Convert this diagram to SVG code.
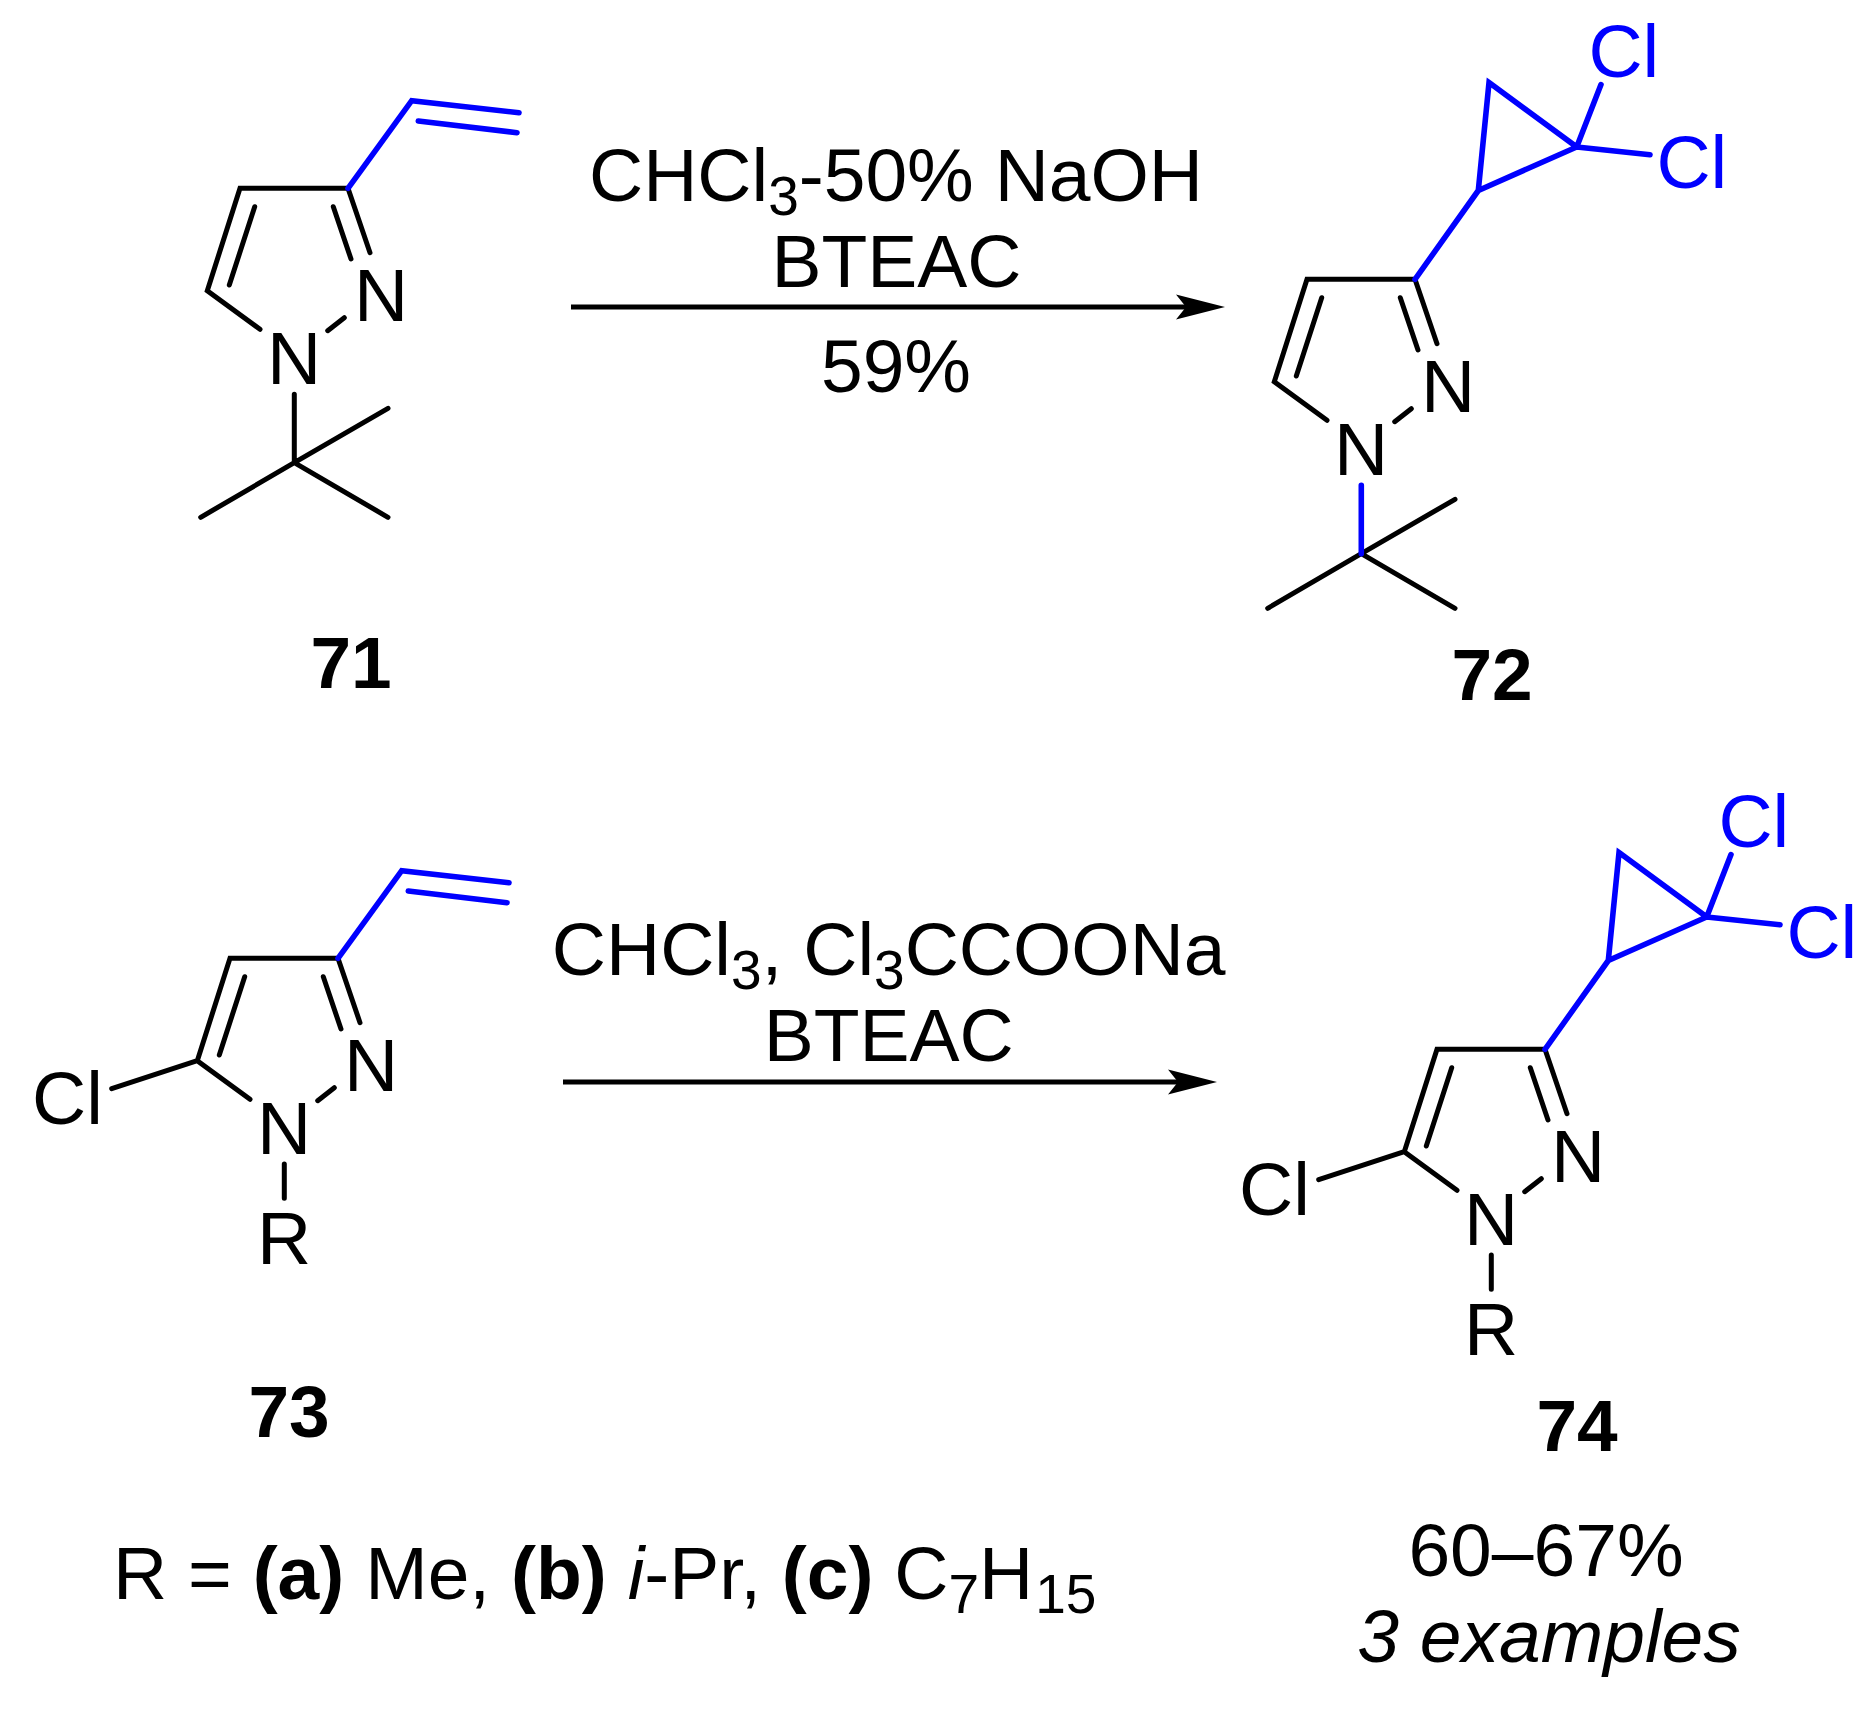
<svg xmlns="http://www.w3.org/2000/svg" width="1873" height="1710" viewBox="0 0 1873 1710">
<style>
text{font-family:"Liberation Sans",Arial,sans-serif;font-size:75px;fill:#000}
.b{fill:none;stroke:#000;stroke-width:5;stroke-linecap:round;stroke-linejoin:miter}
.u{fill:none;stroke:#0000ff;stroke-width:5.6;stroke-linecap:round;stroke-linejoin:miter}
.blue{fill:#0000ff}
.m{text-anchor:middle}
.bd{font-weight:700}
.lbl{font-size:73px}
.it{font-style:italic}
.sub{font-size:55px}
.arrow{fill:none;stroke:#000;stroke-width:5}
.head{fill:#000}
</style>
<rect width="1873" height="1710" fill="#ffffff"/>
<g id="compound-71">
<path class="b" d="M348 188.3H240L207.3 290.7L260 329.3M254.7 206.7L229.3 285M348 188.3L370 252.7M333.3 206.7L351 259M327.7 330.7L344.3 317.7M294.3 394.3V462.7M388 408.3L294.3 462.7L200.7 517.3M294.3 462.7L388 517.3"/>
<path class="u" d="M348 188.3L411.7 100.7L519 112.7M418.3 121L517 132.7"/>
<text class="m" x="294" y="384">N</text><text class="m" x="381" y="321">N</text>
<text class="m bd lbl" x="351" y="688">71</text>
</g>
<g id="compound-72" transform="translate(1067 91)">
<path class="b" d="M348 188.3H240L207.3 290.7L260 329.3M254.7 206.7L229.3 285M348 188.3L370 252.7M333.3 206.7L351 259M327.7 330.7L344.3 317.7M388 408.3L294.3 462.7L200.7 517.3M294.3 462.7L388 517.3"/>
<path class="u" d="M294.3 394.3V462.7M348 188.3L411.3 99.5M422 -8.4L509.7 56L411.3 99.5ZM509.7 56L534 -6.4M509.7 56L583 63.8"/>
<text class="m" x="294" y="384">N</text><text class="m" x="381" y="321">N</text>
<text class="blue" x="521.4" y="-14.4">Cl</text><text class="blue" x="589.4" y="97.2">Cl</text>
<text class="m bd lbl" x="425" y="609">72</text>
</g>
<g id="compound-73" transform="translate(-10 770)">
<path class="b" d="M348 188.3H240L207.3 290.7L260 329.3M254.7 206.7L229.3 285M348 188.3L370 252.7M333.3 206.7L351 259M327.7 330.7L344.3 317.7M294.3 394V428.3M207.3 290.7L121.7 318.7"/>
<path class="u" d="M348 188.3L411.7 100.7L519 112.7M418.3 121L517 132.7"/>
<text class="m" x="294" y="384">N</text><text class="m" x="381" y="321">N</text>
<text x="42" y="354.3">Cl</text>
<text class="m" x="294" y="494">R</text>
<text class="m bd lbl" x="299" y="667">73</text>
</g>
<g id="compound-74" transform="translate(1197 861)">
<path class="b" d="M348 188.3H240L207.3 290.7L260 329.3M254.7 206.7L229.3 285M348 188.3L370 252.7M333.3 206.7L351 259M327.7 330.7L344.3 317.7M294.3 394V428.3M207.3 290.7L121.7 318.7"/>
<path class="u" d="M348 188.3L411.3 99.5M422 -8.4L509.7 56L411.3 99.5ZM509.7 56L534 -6.4M509.7 56L583 63.8"/>
<text class="m" x="294" y="384">N</text><text class="m" x="381" y="321">N</text>
<text class="blue" x="521.4" y="-14.4">Cl</text><text class="blue" x="589.4" y="97.2">Cl</text>
<text x="42" y="354.3">Cl</text>
<text class="m" x="294" y="494">R</text>
<text class="m bd lbl" x="380" y="590">74</text>
</g>
<g id="connectors">
<path class="arrow" d="M571 307H1190"/>
<path class="head" d="M1225 307L1176 294.5L1186 307L1176 319.5Z"/>
<path class="arrow" d="M563 1082H1182"/>
<path class="head" d="M1217 1082L1168 1069.5L1178 1082L1168 1094.5Z"/>
</g>
<g id="labels">
<text class="m" x="896" y="201">CHCl<tspan class="sub" dy="14">3</tspan><tspan dy="-14">-50% NaOH</tspan></text>
<text class="m" x="896.5" y="287">BTEAC</text>
<text class="m" x="896" y="392">59%</text>
<text class="m" x="888.7" y="975">CHCl<tspan class="sub" dy="14">3</tspan><tspan dy="-14">, Cl</tspan><tspan class="sub" dy="14">3</tspan><tspan dy="-14">CCOONa</tspan></text>
<text class="m" x="888.7" y="1061">BTEAC</text>
<text x="113" y="1599">R = <tspan class="bd">(a)</tspan> Me, <tspan class="bd">(b)</tspan> <tspan class="it">i</tspan>-Pr, <tspan class="bd">(c)</tspan> C<tspan class="sub" dy="14">7</tspan><tspan dy="-14">H</tspan><tspan class="sub" dy="14" dx="2">15</tspan></text>
<text class="m" x="1546" y="1576">60–67%</text>
<text class="m it" x="1549" y="1662">3 examples</text>
</g>
</svg>
